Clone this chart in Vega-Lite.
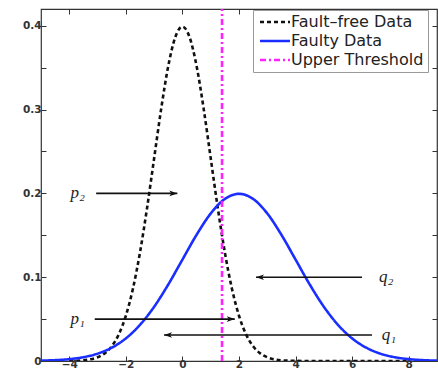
{
  "$schema": "https://vega.github.io/schema/vega-lite/v6.json",
  "width": 396,
  "height": 352,
  "autosize": {"type": "none"},
  "padding": {"left": 41, "top": 9, "right": 1, "bottom": 11},
  "background": "white",
  "config": {
    "view": {"stroke": "#333", "strokeWidth": 1.2},
    "axis": {
      "grid": false,
      "domain": false,
      "title": null,
      "labelFont": "DejaVu Sans",
      "labelFontWeight": "bold",
      "labelFontSize": 10.5,
      "labelColor": "#333",
      "tickColor": "#333",
      "tickSize": -5,
      "tickWidth": 1
    },
    "legend": {
      "title": null, "orient": "none", "legendX": 212, "legendY": 1,
      "strokeColor": "#999", "fillColor": "white", "padding": 4,
      "symbolType": "M-3,0 L3,0", "symbolSize": 100, "symbolStrokeWidth": 2.5,
      "labelFont": "DejaVu Sans", "labelFontSize": 16, "labelColor": "#222",
      "rowPadding": 3, "labelOffset": 8, "symbolOffset": 10
    }
  },
  "datasets": {
    "curves": [
      {"x": -4, "y": 0.000134, "series": "Fault–free Data"},
      {"x": -3.75, "y": 0.000353, "series": "Fault–free Data"},
      {"x": -3.5, "y": 0.000873, "series": "Fault–free Data"},
      {"x": -3.25, "y": 0.002029, "series": "Fault–free Data"},
      {"x": -3, "y": 0.004432, "series": "Fault–free Data"},
      {"x": -2.75, "y": 0.009094, "series": "Fault–free Data"},
      {"x": -2.5, "y": 0.017528, "series": "Fault–free Data"},
      {"x": -2.25, "y": 0.03174, "series": "Fault–free Data"},
      {"x": -2, "y": 0.053991, "series": "Fault–free Data"},
      {"x": -1.75, "y": 0.086277, "series": "Fault–free Data"},
      {"x": -1.5, "y": 0.129518, "series": "Fault–free Data"},
      {"x": -1.25, "y": 0.182649, "series": "Fault–free Data"},
      {"x": -1, "y": 0.241971, "series": "Fault–free Data"},
      {"x": -0.75, "y": 0.301137, "series": "Fault–free Data"},
      {"x": -0.5, "y": 0.352065, "series": "Fault–free Data"},
      {"x": -0.25, "y": 0.386668, "series": "Fault–free Data"},
      {"x": 0, "y": 0.398942, "series": "Fault–free Data"},
      {"x": 0.25, "y": 0.386668, "series": "Fault–free Data"},
      {"x": 0.5, "y": 0.352065, "series": "Fault–free Data"},
      {"x": 0.75, "y": 0.301137, "series": "Fault–free Data"},
      {"x": 1, "y": 0.241971, "series": "Fault–free Data"},
      {"x": 1.25, "y": 0.182649, "series": "Fault–free Data"},
      {"x": 1.5, "y": 0.129518, "series": "Fault–free Data"},
      {"x": 1.75, "y": 0.086277, "series": "Fault–free Data"},
      {"x": 2, "y": 0.053991, "series": "Fault–free Data"},
      {"x": 2.25, "y": 0.03174, "series": "Fault–free Data"},
      {"x": 2.5, "y": 0.017528, "series": "Fault–free Data"},
      {"x": 2.75, "y": 0.009094, "series": "Fault–free Data"},
      {"x": 3, "y": 0.004432, "series": "Fault–free Data"},
      {"x": 3.25, "y": 0.002029, "series": "Fault–free Data"},
      {"x": 3.5, "y": 0.000873, "series": "Fault–free Data"},
      {"x": 3.75, "y": 0.000353, "series": "Fault–free Data"},
      {"x": 4, "y": 0.000134, "series": "Fault–free Data"},
      {"x": 5, "y": 0.0, "series": "Fault–free Data"},
      {"x": 6, "y": 0.0, "series": "Fault–free Data"},
      {"x": 7, "y": 0.0, "series": "Fault–free Data"},
      {"x": 8, "y": 0.0, "series": "Fault–free Data"},
      {"x": -5, "y": 0.000437, "series": "Faulty Data"},
      {"x": -4.5, "y": 0.001015, "series": "Faulty Data"},
      {"x": -4, "y": 0.002216, "series": "Faulty Data"},
      {"x": -3.5, "y": 0.004547, "series": "Faulty Data"},
      {"x": -3, "y": 0.008764, "series": "Faulty Data"},
      {"x": -2.5, "y": 0.01587, "series": "Faulty Data"},
      {"x": -2, "y": 0.026995, "series": "Faulty Data"},
      {"x": -1.5, "y": 0.043139, "series": "Faulty Data"},
      {"x": -1, "y": 0.064759, "series": "Faulty Data"},
      {"x": -0.5, "y": 0.091325, "series": "Faulty Data"},
      {"x": 0, "y": 0.120985, "series": "Faulty Data"},
      {"x": 0.5, "y": 0.150569, "series": "Faulty Data"},
      {"x": 1, "y": 0.176033, "series": "Faulty Data"},
      {"x": 1.5, "y": 0.193334, "series": "Faulty Data"},
      {"x": 2, "y": 0.199471, "series": "Faulty Data"},
      {"x": 2.5, "y": 0.193334, "series": "Faulty Data"},
      {"x": 3, "y": 0.176033, "series": "Faulty Data"},
      {"x": 3.5, "y": 0.150569, "series": "Faulty Data"},
      {"x": 4, "y": 0.120985, "series": "Faulty Data"},
      {"x": 4.5, "y": 0.091325, "series": "Faulty Data"},
      {"x": 5, "y": 0.064759, "series": "Faulty Data"},
      {"x": 5.5, "y": 0.043139, "series": "Faulty Data"},
      {"x": 6, "y": 0.026995, "series": "Faulty Data"},
      {"x": 6.5, "y": 0.01587, "series": "Faulty Data"},
      {"x": 7, "y": 0.008764, "series": "Faulty Data"},
      {"x": 7.5, "y": 0.004547, "series": "Faulty Data"},
      {"x": 8, "y": 0.002216, "series": "Faulty Data"},
      {"x": 8.5, "y": 0.001015, "series": "Faulty Data"},
      {"x": 9, "y": 0.000437, "series": "Faulty Data"}
    ],
    "threshold": [
      {"x": 1.4, "y": 0, "series": "Upper Threshold"},
      {"x": 1.4, "y": 0.42, "series": "Upper Threshold"}
    ],
    "arrows": [
      {"name": "p2", "y": 0.2, "tail": -3.05, "tip": -0.18, "dir": "right"},
      {"name": "p1", "y": 0.05, "tail": -3.1, "tip": 1.85, "dir": "right"},
      {"name": "q2", "y": 0.1, "tail": 6.35, "tip": 2.6, "dir": "left"},
      {"name": "q1", "y": 0.031, "tail": 6.7, "tip": -0.65, "dir": "left"}
    ],
    "labels": [
      {"text": "p₂", "x": -3.7, "y": 0.2},
      {"text": "p₁", "x": -3.7, "y": 0.05},
      {"text": "q₂", "x": 7.2, "y": 0.1},
      {"text": "q₁", "x": 7.3, "y": 0.031}
    ]
  },
  "resolve": {"axis": {"x": "independent", "y": "independent"}},
  "layer": [
    {
      "data": {"name": "curves"},
      "mark": {"type": "line", "interpolate": "monotone", "strokeWidth": 2.6, "clip": true},
      "encoding": {
        "x": {"field": "x", "type": "quantitative", "scale": {"domain": [-5, 9], "nice": false, "zero": false},
              "axis": {"orient": "bottom", "values": [-4, -2, 0, 2, 4, 6, 8], "labelPadding": 3}},
        "y": {"field": "y", "type": "quantitative", "scale": {"domain": [0, 0.42], "nice": false},
              "axis": {"orient": "left", "values": [0, 0.05, 0.1, 0.15, 0.2, 0.25, 0.3, 0.35, 0.4], "labelPadding": 5,
                       "labelExpr": "round(datum.value*100) % 10 == 0 ? (datum.value == 0 ? '0' : format(datum.value, '.1f')) : ''"}},
        "color": {"field": "series", "type": "nominal",
                  "scale": {"domain": ["Fault–free Data", "Faulty Data", "Upper Threshold"], "range": ["#111111", "#1a2eff", "#ff22ff"]}},
        "strokeDash": {"field": "series", "type": "nominal",
                       "scale": {"domain": ["Fault–free Data", "Faulty Data", "Upper Threshold"], "range": [[4, 3], [1, 0], [6, 3, 2, 3]]}}
      }
    },
    {
      "data": {"name": "threshold"},
      "mark": {"type": "line", "strokeWidth": 2.6, "clip": true},
      "encoding": {
        "x": {"field": "x", "type": "quantitative", "scale": {"domain": [-5, 9], "nice": false, "zero": false},
              "axis": {"orient": "top", "values": [-4, -2, 0, 2, 4, 6, 8], "labels": false}},
        "y": {"field": "y", "type": "quantitative", "scale": {"domain": [0, 0.42], "nice": false},
              "axis": {"orient": "right", "values": [0, 0.05, 0.1, 0.15, 0.2, 0.25, 0.3, 0.35, 0.4], "labels": false}},
        "color": {"field": "series", "type": "nominal",
                  "scale": {"domain": ["Fault–free Data", "Faulty Data", "Upper Threshold"], "range": ["#111111", "#1a2eff", "#ff22ff"]}},
        "strokeDash": {"field": "series", "type": "nominal",
                       "scale": {"domain": ["Fault–free Data", "Faulty Data", "Upper Threshold"], "range": [[4, 3], [1, 0], [6, 3, 2, 3]]}}
      }
    },
    {
      "data": {"name": "arrows"},
      "mark": {"type": "rule", "color": "#111", "strokeWidth": 1.6},
      "encoding": {
        "x": {"field": "tail", "type": "quantitative", "axis": null},
        "x2": {"field": "tip"},
        "y": {"field": "y", "type": "quantitative", "axis": null}
      }
    },
    {
      "data": {"name": "arrows"},
      "mark": {"type": "point", "filled": true, "color": "#111", "opacity": 1, "size": 64, "strokeWidth": 0},
      "encoding": {
        "x": {"field": "tip", "type": "quantitative", "axis": null},
        "y": {"field": "y", "type": "quantitative", "axis": null},
        "shape": {"field": "dir", "type": "nominal",
                  "scale": {"domain": ["right", "left"], "range": ["M0,0 L-2,-0.7 L-1.5,0 L-2,0.7 Z", "M0,0 L2,-0.7 L1.5,0 L2,0.7 Z"]},
                  "legend": null}
      }
    },
    {
      "data": {"name": "labels"},
      "mark": {"type": "text", "font": "Liberation Serif", "fontStyle": "italic", "fontSize": 17, "color": "#222", "align": "center", "baseline": "middle"},
      "encoding": {
        "x": {"field": "x", "type": "quantitative", "axis": null},
        "y": {"field": "y", "type": "quantitative", "axis": null},
        "text": {"field": "text"}
      }
    }
  ]
}
